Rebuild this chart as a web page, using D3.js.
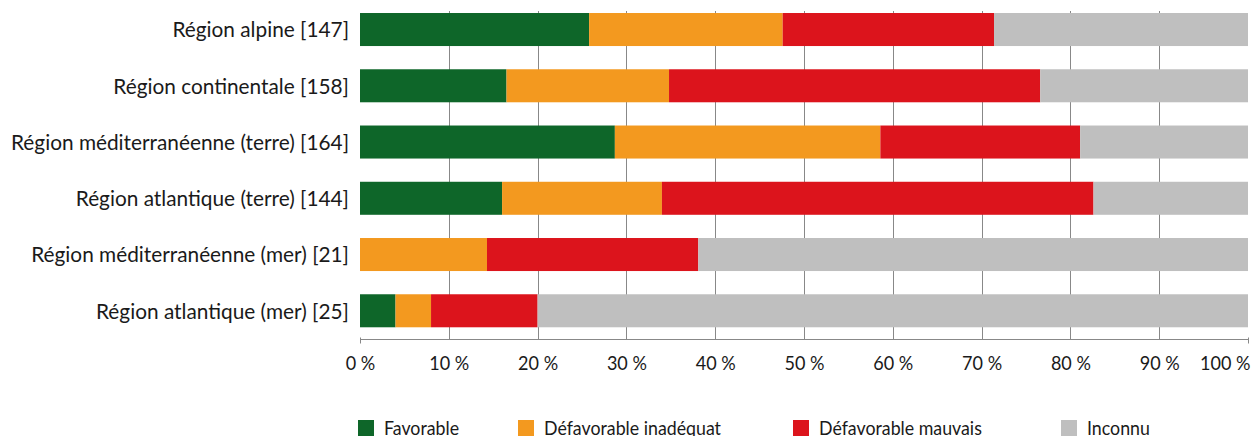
<!DOCTYPE html>
<html>
<head>
<meta charset="utf-8">
<script src="https://cdn.jsdelivr.net/npm/d3@7"></script>
<style>
  html, body { margin: 0; padding: 0; background: #fff; }
  svg { display: block; }
  text { font-family: Lato, "Open Sans", "DejaVu Sans Condensed", sans-serif; fill: #1a1a1a; }
</style>
</head>
<body>
<svg id="chart" width="1257" height="436"></svg>
<script>
// Conservation status of habitats by biogeographic region (share of assessments, %)
const regions = [
  "Région alpine [147]",
  "Région continentale [158]",
  "Région méditerranéenne (terre) [164]",
  "Région atlantique (terre) [144]",
  "Région méditerranéenne (mer) [21]",
  "Région atlantique (mer) [25]"
];
const statusNames = ["Favorable", "Défavorable inadéquat", "Défavorable mauvais", "Inconnu"];
const favorable    = [25.8, 16.5, 28.7, 16.0,  0.0,  4.0];
const inadequat    = [21.8, 18.3, 29.9, 18.0, 14.3,  4.0];
const mauvais      = [23.8, 41.8, 22.5, 48.6, 23.8, 12.0];
const inconnu      = [28.6, 23.4, 18.9, 17.4, 61.9, 80.0];
const tickValues   = [0, 10, 20, 30, 40, 50, 60, 70, 80, 90, 100];
const tickLabels   = ["0 %", "10 %", "20 %", "30 %", "40 %", "50 %", "60 %", "70 %", "80 %", "90 %", "100 %"];
const colors       = ["#0e6629", "#f3991f", "#dc141c", "#bfbfbf"];

const rows = regions.map((r, i) => ({
  region: r,
  [statusNames[0]]: favorable[i],
  [statusNames[1]]: inadequat[i],
  [statusNames[2]]: mauvais[i],
  [statusNames[3]]: inconnu[i]
}));

const svg = d3.select("#chart");
const x = d3.scaleLinear().domain([0, 100]).range([360, 1248]);
const y = d3.scaleBand().domain(regions).range([1.4, 338.9]).paddingInner(0.413).paddingOuter(0.2065);
const color = d3.scaleOrdinal().domain(statusNames).range(colors);
const axisY = 339.5;

// Narrow a group of texts horizontally so that a reference string reaches a given width
function condense(sel, refIndex, targetWidth) {
  const nodes = sel.nodes();
  const k = targetWidth / nodes[refIndex].getComputedTextLength();
  nodes.forEach(n => {
    n.setAttribute("textLength", (n.getComputedTextLength() * k).toFixed(2));
    n.setAttribute("lengthAdjust", "spacingAndGlyphs");
  });
}

// vertical gridlines
svg.append("g")
  .selectAll("line")
  .data(tickValues.filter(v => v > 0 && v < 100))
  .join("line")
  .attr("x1", d => Math.round(x(d)) + 0.5)
  .attr("x2", d => Math.round(x(d)) + 0.5)
  .attr("y1", 11)
  .attr("y2", axisY)
  .attr("stroke", "#888")
  .attr("stroke-width", 1);

// stacked bars
const series = d3.stack().keys(statusNames)(rows);
svg.append("g")
  .selectAll("g")
  .data(series)
  .join("g")
  .attr("fill", d => color(d.key))
  .selectAll("rect")
  .data(d => d)
  .join("rect")
  .attr("x", d => x(d[0]))
  .attr("width", d => Math.max(0, x(d[1]) - x(d[0])))
  .attr("y", d => y(d.data.region))
  .attr("height", y.bandwidth());

// x axis
const xAxis = d3.axisBottom(x)
  .tickValues(tickValues)
  .tickFormat((d, i) => tickLabels[i])
  .tickSize(0)
  .tickPadding(17);
const gx = svg.append("g").attr("transform", `translate(0,${axisY})`).call(xAxis);
gx.select(".domain").attr("stroke", "#888").attr("d", `M${x(0)},0H${x(100)}`);
const tickText = gx.selectAll(".tick text")
  .attr("font-size", 19)
  .attr("font-family", null)
  .attr("fill", "#1a1a1a");
// the last label sits flush with the right end of the axis
tickText.filter(d => d === 100).attr("text-anchor", "end").attr("x", 2);
condense(tickText, 1, 40);
[0, 100].forEach(v => {
  gx.append("line")
    .attr("x1", Math.round(x(v)) + 0.5).attr("x2", Math.round(x(v)) + 0.5)
    .attr("y1", -2).attr("y2", 4)
    .attr("stroke", "#888");
});

// category labels
const catText = svg.append("g")
  .selectAll("text")
  .data(regions)
  .join("text")
  .attr("x", 349)
  .attr("y", d => y(d) + y.bandwidth() / 2)
  .attr("dy", "0.36em")
  .attr("text-anchor", "end")
  .attr("font-size", 21.5)
  .text(d => d);
condense(catText, 2, 338);

// legend
const legendX = [358, 518, 793, 1061];
const legend = svg.append("g")
  .selectAll("g")
  .data(statusNames)
  .join("g")
  .attr("transform", (d, i) => `translate(${legendX[i]},420)`);
legend.append("rect")
  .attr("width", 16)
  .attr("height", 16)
  .attr("fill", d => color(d));
const legText = legend.append("text")
  .attr("x", 26)
  .attr("y", 15)
  .attr("font-size", 20)
  .text(d => d);
condense(legText, 1, 177);
</script>
</body>
</html>
